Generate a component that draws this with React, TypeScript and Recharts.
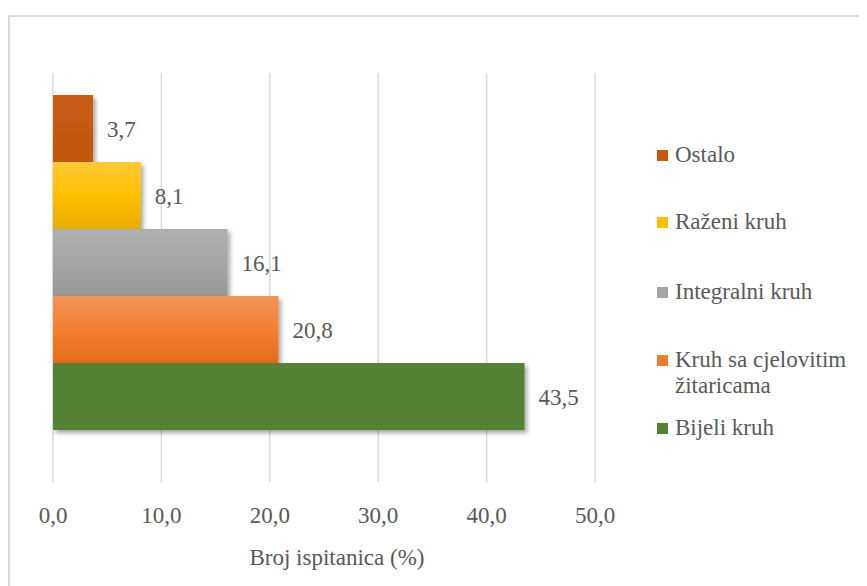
import React from 'react';
import { BarChart, Bar, XAxis, YAxis, CartesianGrid, LabelList } from 'recharts';

const categories = ['Udio'];
const seriesKeys = ['ostalo', 'razeni', 'integralni', 'cjelovite', 'bijeli'];
const seriesNames = ['Ostalo', 'Raženi kruh', 'Integralni kruh', 'Kruh sa cjelovitim žitaricama', 'Bijeli kruh'];
const seriesValues = [3.7, 8.1, 16.1, 20.8, 43.5];
const xTicks = [0, 10, 20, 30, 40, 50];
const axisTitle = 'Broj ispitanica (%)';

const seriesFills = ['url(#gOstalo)', 'url(#gRazeni)', 'url(#gIntegralni)', 'url(#gCjelovite)', 'url(#gBijeli)'];
const legendSwatches = ['#C55A11', '#FFC000', '#A5A5A5', '#ED7D31', '#548235'];
const legendGaps = [0, 41, 44, 42, 16];

const data = categories.map((name) => {
  const row: Record<string, any> = { name };
  seriesKeys.forEach((k, i) => {
    row[k] = seriesValues[i];
  });
  return row;
});

const fmt = (v: any) => Number(v).toFixed(1).replace('.', ',');

const FONT = 'Liberation Serif, Tinos, DejaVu Serif, serif';
const TEXT = '#595959';

const LegendBox = () => (
  <div
    style={{
      position: 'absolute',
      left: 649,
      top: 134,
      width: 210,
      fontFamily: FONT,
      fontSize: 23,
      color: TEXT,
      lineHeight: '26px',
    }}
  >
    {seriesNames.map((n, i) => (
      <div key={n} style={{ display: 'flex', alignItems: 'flex-start', marginTop: legendGaps[i] }}>
        <div style={{ width: 11, height: 11, background: legendSwatches[i], marginTop: 8, marginRight: 7, flex: 'none' }} />
        <div style={{ width: 180 }}>{n}</div>
      </div>
    ))}
  </div>
);

export default function App() {
  return (
    <div style={{ position: 'relative', width: 859, height: 578, overflow: 'hidden', background: '#fff' }}>
      <div
        style={{
          position: 'absolute',
          left: 0,
          top: 7,
          width: 900,
          height: 700,
          border: '2px solid #d9d9d9',
          boxSizing: 'border-box',
        }}
      />
      <div style={{ position: 'absolute', left: 0, top: 0 }}>
        <BarChart
          width={859}
          height={578}
          data={data}
          layout="vertical"
          margin={{ top: 65, left: 45, right: 272, bottom: 0 }}
          barCategoryGap={22}
          barGap={0}
        >
          <defs>
            <linearGradient id="gOstalo" x1="0" y1="0" x2="0" y2="1">
              <stop offset="0%" stopColor="#C75D14" />
              <stop offset="100%" stopColor="#C2570F" />
            </linearGradient>
            <linearGradient id="gRazeni" x1="0" y1="0" x2="0" y2="1">
              <stop offset="0%" stopColor="#FFC935" />
              <stop offset="50%" stopColor="#FFC000" />
              <stop offset="100%" stopColor="#E7AD00" />
            </linearGradient>
            <linearGradient id="gIntegralni" x1="0" y1="0" x2="0" y2="1">
              <stop offset="0%" stopColor="#AFAFAF" />
              <stop offset="50%" stopColor="#A5A5A5" />
              <stop offset="100%" stopColor="#979797" />
            </linearGradient>
            <linearGradient id="gCjelovite" x1="0" y1="0" x2="0" y2="1">
              <stop offset="0%" stopColor="#F2935A" />
              <stop offset="50%" stopColor="#F47F2E" />
              <stop offset="100%" stopColor="#E46C1B" />
            </linearGradient>
            <linearGradient id="gBijeli" x1="0" y1="0" x2="0" y2="1">
              <stop offset="0%" stopColor="#548235" />
              <stop offset="100%" stopColor="#548235" />
            </linearGradient>
            <filter id="barShadow" x="-10%" y="-10%" width="130%" height="140%">
              <feDropShadow dx="2.5" dy="3" stdDeviation="2.2" floodColor="#000" floodOpacity="0.35" />
            </filter>
          </defs>
          <CartesianGrid
            horizontal={false}
            stroke="#d9d9d9"
            strokeWidth={1.5}
            y={65}
            height={409}
          />
          <XAxis
            type="number"
            domain={[0, 50]}
            ticks={xTicks}
            tickFormatter={fmt}
            axisLine={false}
            tickLine={false}
            tickMargin={47}
            height={132}
            interval={0}
            tick={{ fill: TEXT, fontSize: 23, fontFamily: FONT }}
            label={{
              value: axisTitle,
              position: 'insideBottom',
              offset: 21,
              dx: 13,
              fill: TEXT,
              fontSize: 23,
              fontFamily: FONT,
            }}
          />
          <YAxis type="category" dataKey="name" hide width={0} />
          {seriesKeys.map((k, i) => (
            <Bar
              key={k}
              dataKey={k}
              name={seriesNames[i]}
              fill={seriesFills[i]}
              filter="url(#barShadow)"
              isAnimationActive={false}
            >
              <LabelList
                dataKey={k}
                position="right"
                offset={14}
                formatter={fmt}
                fill={TEXT}
                fontSize={23}
                fontFamily={FONT}
              />
            </Bar>
          ))}
        </BarChart>
      </div>
      <LegendBox />
    </div>
  );
}
